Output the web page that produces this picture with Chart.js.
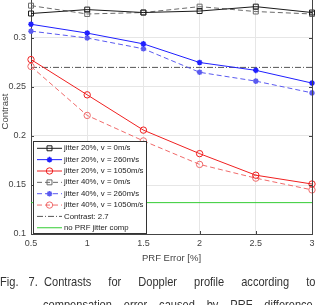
<!DOCTYPE html>
<html><head><meta charset="utf-8">
<script src="https://cdn.jsdelivr.net/npm/chart.js@4.4.1/dist/chart.umd.min.js"></script>
<style>
html,body{margin:0;padding:0;background:#fff;width:316px;height:305px;overflow:hidden;}
#wrap{position:relative;width:316px;height:305px;overflow:hidden;}
canvas{position:absolute;left:0;top:-11px;}
.cap{position:absolute;font-family:"Liberation Sans",Arial,sans-serif;font-size:13.5px;line-height:13.5px;color:#333;white-space:nowrap;text-align:justify;text-align-last:justify;transform-origin:0 0;transform:scaleX(0.82);}
</style></head><body>
<div id="wrap"><canvas id="c" width="316" height="316"></canvas>
<div class="cap" style="left:0;top:275px;width:46px">Fig. 7.</div>
<div class="cap" style="left:44px;top:275px;width:331px">Contrasts for Doppler profile according to</div>
<div class="cap" style="left:43px;top:298px;width:329px">compensation error caused by PRF difference</div>
</div>
<script>
// ---- data ----
const prfError = [0.5, 1, 1.5, 2, 2.5, 3];
const j20v0    = [0.325, 0.329, 0.326, 0.3275, 0.332, 0.326];
const j20v260  = [0.314, 0.305, 0.294, 0.275, 0.267, 0.254];
const j20v1050 = [0.278, 0.242, 0.206, 0.182, 0.160, 0.151];
const j40v0    = [0.333, 0.3245, 0.326, 0.332, 0.327, 0.3245];
const j40v260  = [0.307, 0.300, 0.289, 0.265, 0.256, 0.244];
const j40v1050 = [0.271, 0.221, 0.195, 0.171, 0.157, 0.145];
const contrastLevel = 0.27;
const noJitterComp = 0.132;
const xTicks = [0.5, 1, 1.5, 2, 2.5, 3];
const yTicks = [0.1, 0.15, 0.2, 0.25, 0.3, 0.35];
const labels = ['jitter 20%, v = 0m/s','jitter 20%, v = 260m/s','jitter 20%, v = 1050m/s',
                'jitter 40%, v = 0m/s','jitter 40%, v = 260m/s','jitter 40%, v = 1050m/s',
                'Contrast: 2.7','no PRF jitter comp'];

const pts = arr => prfError.map((x,i)=>({x, y:arr[i]}));
const flat = v => [prfError[0], prfError[prfError.length-1]].map(x=>({x, y:v}));

const BLACK='#1a1a1a', BLACK2='#6a6a6a', BLUE='#1f1fff', BLUE2='#5a5af0', RED='#f02020', RED2='#f06a6a';
function series(label, data, color, style, radius, dash, bw){
  return {label, data, borderColor:color, borderWidth:1, borderDash:dash||[],
    pointStyle:style, pointRadius:radius, pointHoverRadius:radius, pointBorderColor:color,
    pointBackgroundColor:'rgba(0,0,0,0)', pointBorderWidth:bw||1, tension:0, clip:false};
}
const datasets = [
  series(labels[0], pts(j20v0), BLACK, 'rect', 3.5),
  series(labels[1], pts(j20v260), BLUE, 'star', 2.8, null, 1.5),
  series(labels[2], pts(j20v1050), RED, 'circle', 3.2),
  series(labels[3], pts(j40v0), BLACK2, 'rect', 3.5, [5,3]),
  series(labels[4], pts(j40v260), BLUE2, 'star', 2.8, [5,3], 1.5),
  series(labels[5], pts(j40v1050), RED2, 'circle', 3.2, [5,3]),
  {label:labels[6], data:flat(contrastLevel), borderColor:'#555', borderWidth:1, borderDash:[6,2,1,2], pointRadius:0, pointStyle:false},
  {label:labels[7], data:flat(noJitterComp), borderColor:'#33cc33', borderWidth:1, pointRadius:0, pointStyle:false}
];

const OFF = 11; // canvas is shifted up by this many pixels
const frame = {
  id:'frame',
  afterDraw(chart){
    const {ctx, chartArea:a, scales} = chart;
    ctx.save();
    ctx.strokeStyle='#444'; ctx.lineWidth=1;
    ctx.beginPath();
    ctx.moveTo(Math.round(a.right)+0.5, a.top); ctx.lineTo(Math.round(a.right)+0.5, a.bottom);
    yTicks.forEach(v=>{ const y=Math.round(scales.y.getPixelForValue(v))+0.5;
      ctx.moveTo(a.left, y); ctx.lineTo(a.left+3, y);
      ctx.moveTo(a.right, y); ctx.lineTo(a.right-3, y); });
    xTicks.forEach(v=>{ const x=Math.round(scales.x.getPixelForValue(v))+0.5;
      ctx.moveTo(x, a.bottom); ctx.lineTo(x, a.bottom-3); });
    ctx.stroke();
    // legend box
    const L=33.5, T=141.5+OFF, R=146.5, B=233.5+OFF;
    ctx.fillStyle='#fff'; ctx.fillRect(L,T,R-L,B-T);
    ctx.strokeStyle='#333'; ctx.strokeRect(L,T,R-L,B-T);
    ctx.font='7.8px "Liberation Sans", Arial, sans-serif';
    ctx.textBaseline='middle'; ctx.textAlign='left';
    chart.data.datasets.forEach((ds,i)=>{
      const y = 148.3 + OFF + i*11.35;
      ctx.save();
      ctx.strokeStyle=ds.borderColor; ctx.lineWidth=1;
      ctx.setLineDash(ds.borderDash||[]);
      ctx.beginPath(); ctx.moveTo(37,y); ctx.lineTo(62,y); ctx.stroke();
      ctx.setLineDash([]);
      if (ds.pointStyle && Chart.helpers && Chart.helpers.drawPoint){
        ctx.strokeStyle=ds.pointBorderColor; ctx.fillStyle='rgba(0,0,0,0)';
        ctx.lineWidth=ds.pointBorderWidth;
        Chart.helpers.drawPoint(ctx,{pointStyle:ds.pointStyle, rotation:0, radius:ds.pointRadius, borderWidth:ds.pointBorderWidth},49.5,y);
      }
      ctx.restore();
      ctx.fillStyle='#222';
      ctx.fillText(ds.label, 64, y);
    });
    ctx.restore();
  }
};

new Chart(document.getElementById('c'), {
  type:'line',
  data:{datasets},
  plugins:[frame],
  options:{
    responsive:false, devicePixelRatio:1, animation:false,
    layout:{autoPadding:false, padding:{top:0, left:0, right:4, bottom:37}},
    plugins:{legend:{display:false}, tooltip:{enabled:false}},
    scales:{
      x:{type:'linear', min:0.5, max:3,
        afterBuildTicks: s => { s.ticks = xTicks.map(v=>({value:v})); },
        afterFit: s => { s.height = 34; s.paddingLeft = 0; s.paddingRight = 0; },
        grid:{color:'#e6e6e6', lineWidth:1, drawTicks:false},
        border:{display:true, color:'#444', width:1},
        ticks:{padding:4, maxRotation:0, color:'#444', font:{family:'"Liberation Sans", Arial, sans-serif', size:9}, callback:v=>String(v)},
        title:{display:true, text:'PRF Error [%]', color:'#444', padding:{top:0,bottom:4}, font:{family:'"Liberation Sans", Arial, sans-serif', size:9.5}}
      },
      y:{type:'linear', min:0.1, max:0.35,
        afterBuildTicks: s => { s.ticks = yTicks.map(v=>({value:v})); },
        afterFit: s => { s.width = 31; s.paddingTop = 0; s.paddingBottom = 0; },
        grid:{color:'#e6e6e6', lineWidth:1, drawTicks:false},
        border:{display:true, color:'#444', width:1},
        ticks:{padding:5, color:'#444', font:{family:'"Liberation Sans", Arial, sans-serif', size:9}, callback:v=>String(+v.toFixed(2))},
        title:{display:true, text:'Contrast', color:'#444', padding:{top:0,bottom:0}, font:{family:'"Liberation Sans", Arial, sans-serif', size:9.5}}
      }
    }
  }
});
</script>
</body></html>
